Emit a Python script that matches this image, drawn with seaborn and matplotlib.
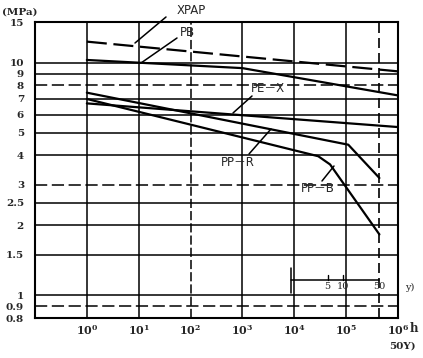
import numpy as np
import pandas as pd
import matplotlib
matplotlib.use("Agg")
import matplotlib.pyplot as plt
import seaborn as sns

# ---- data ----
xpap_hours = [1, 1e6]
xpap_mpa = [12.35, 9.2]
pb_hours = [1, 1e3, 1e6]
pb_mpa = [10.3, 9.5, 7.25]
pex_hours = [1, 1e6]
pex_mpa = [6.7, 5.3]
ppr_hours = [1, 1.1e5, 4.38e5]
ppr_mpa = [7.45, 4.45, 3.2]
ppb_hours = [1, 2.9e4, 4.9e4, 4.38e5]
ppb_mpa = [7.0, 3.97, 3.66, 1.83]

y_ticks = [15, 10, 9, 8, 7, 6, 5, 4, 3, 2.5, 2, 1.5, 1, 0.9, 0.8]
y_ticklabels = ["15", "10", "9", "8", "7", "6", "5", "4", "3", "2.5", "2", "1.5", "1", "0.9", "0.8"]
x_ticks = [1, 1e1, 1e2, 1e3, 1e4, 1e5, 1e6]
x_ticklabels = [r"$\mathbf{10^{%d}}$" % i for i in range(7)]
fifty_years_h = 438000
year_marks = [5, 10, 50]
one_year_h = 8760

sns.set_style("white")
plt.rcParams["font.family"] = ["DejaVu Serif"]
plt.rcParams["mathtext.fontset"] = "dejavuserif"

W, H = 423, 358
fig = plt.figure(figsize=(W / 100, H / 100), dpi=100)
ax = fig.add_axes([35 / W, 1 - 318 / H, (398 - 35) / W, (318 - 22) / H])

def fp(x, y):
    return (x / W, 1 - y / H)

frames = []
for name, hrs, vals in [("XPAP", xpap_hours, xpap_mpa), ("PB", pb_hours, pb_mpa),
                        ("PE-X", pex_hours, pex_mpa), ("PP-R", ppr_hours, ppr_mpa),
                        ("PP-B", ppb_hours, ppb_mpa)]:
    frames.append(pd.DataFrame({"hours": hrs, "mpa": vals, "pipe": name}))
df = pd.concat(frames, ignore_index=True)

ax.set_xscale("log")
ax.set_yscale("log")

styles = {"XPAP": (9, 3), "PB": "", "PE-X": "", "PP-R": "", "PP-B": ""}
sns.lineplot(data=df, x="hours", y="mpa", hue="pipe", style="pipe",
             dashes=styles, palette=["black"] * 5, linewidth=1.6,
             legend=False, ax=ax, sort=False, estimator=None)

ax.set_xlim(0.1, 1e6)
ax.set_ylim(0.8, 15)

# grid
for v in y_ticks:
    ls = (0, (8, 3)) if v in (8, 3, 0.9) else "-"
    ax.axhline(v, color="black", lw=1.1, ls=ls, zorder=1)
for t in x_ticks:
    ls = (0, (6, 2)) if t in (1e2,) else "-"
    ax.axvline(t, color="black", lw=1.1, ls=ls, zorder=1)
ax.axvline(fifty_years_h, color="black", lw=1.2, ls=(0, (6, 3)), zorder=1)

ax.set_yticks(y_ticks)
ax.set_yticklabels(y_ticklabels, fontsize=7.5, fontweight="bold")
ax.yaxis.set_minor_locator(matplotlib.ticker.NullLocator())
ax.set_xticks(x_ticks)
ax.set_xticklabels(x_ticklabels, fontsize=8)
ax.xaxis.set_minor_locator(matplotlib.ticker.NullLocator())
ax.tick_params(length=0)
ax.tick_params(axis="y", pad=8)
ax.tick_params(axis="x", pad=4)
ax.set_xlabel("")
ax.set_ylabel("")
for s in ax.spines.values():
    s.set_color("black")
    s.set_linewidth(1.5)

# year bracket
yr_line_y = 1.16
ax.plot([one_year_h, fifty_years_h], [yr_line_y, yr_line_y], color="black", lw=1.1)
ax.plot([one_year_h, one_year_h], [1.02, 1.31], color="black", lw=1.1)
for yr in year_marks[:2]:
    ax.plot([yr * one_year_h] * 2, [yr_line_y, 1.23], color="black", lw=1.0)
for yr in year_marks:
    ax.text(yr * one_year_h, 1.09, str(yr), fontsize=7, ha="center", va="center")
fig.text(*fp(410, 287), "y)", fontsize=7, ha="center", va="center")

# text
fig.text(*fp(20, 12), "(MPa)", fontsize=7.5, fontweight="bold", ha="center", va="center")
fig.text(*fp(414, 328), "h", fontsize=8.5, fontweight="bold", ha="center", va="center")
fig.text(*fp(402, 346), "50Y)", fontsize=7.5, fontweight="bold", ha="center", va="center")

labels = [("XPAP", (191, 11), (166, 17), (135, 43)),
          ("PB", (187, 32), (177, 38), (141, 63)),
          ("PE－X", (268, 89), (252, 96), (233, 113)),
          ("PP－R", (238, 162), (249, 154), (271, 129)),
          ("PP－B", (318, 189), (322, 181), (334, 166))]
for txt, tpos, a, b in labels:
    fig.text(*fp(*tpos), txt, fontsize=8.5, ha="center", va="center",
             family=["DejaVu Sans", "Noto Sans CJK SC"])
    fig.add_artist(matplotlib.lines.Line2D([a[0] / W, b[0] / W], [1 - a[1] / H, 1 - b[1] / H],
                                           color="black", lw=1.1))

fig.savefig("out.png", dpi=100)
